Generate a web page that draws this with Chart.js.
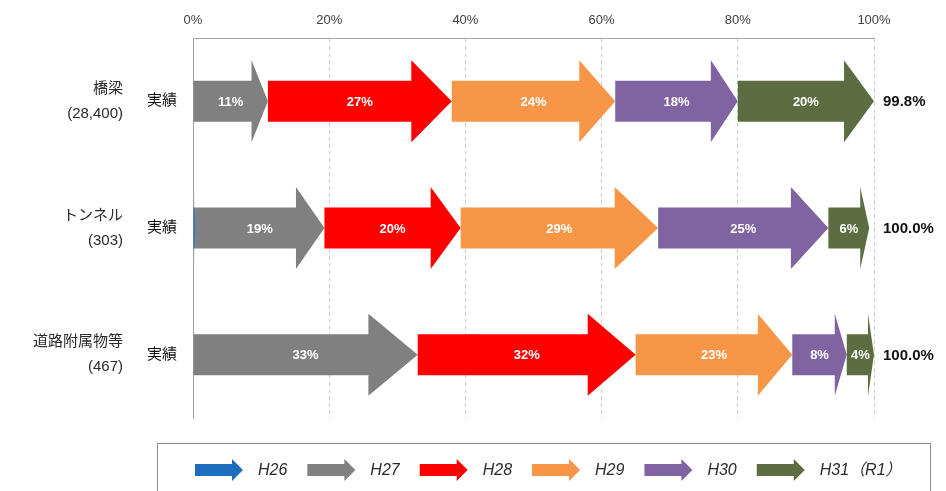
<!DOCTYPE html>
<html lang="ja">
<head>
<meta charset="utf-8">
<script src="https://cdn.jsdelivr.net/npm/chart.js@4.4.1/dist/chart.umd.min.js"></script>
<style>
  html, body { margin: 0; padding: 0; background: #ffffff; }
  #wrap { width: 946px; height: 491px; position: relative; }
</style>
</head>
<body>
<div id="wrap"><canvas id="chart"></canvas></div>
<script>
// Inspection progress by fiscal year (share of all facilities, %)
const categories = ['橋梁', 'トンネル', '道路附属物等'];
const facilityCounts = ['(28,400)', '(303)', '(467)'];
const rowKind = ['実績', '実績', '実績'];
const years = ['H26', 'H27', 'H28', 'H29', 'H30', 'H31（R1）'];

const h26 = [0, 0.3, 0];
const h27 = [11, 19, 33];
const h28 = [27, 20, 32];
const h29 = [24, 29, 23];
const h30 = [18, 25, 8];
const h31 = [20, 6, 4];
const totals = [99.8, 100.0, 100.0];

const xTicks = [0, 20, 40, 60, 80, 100];
const yearColors = ['#1d6dbd', '#808080', '#ff0000', '#f79646', '#8064a2', '#5c6d41'];

const FONT = "'Liberation Sans', 'Noto Sans CJK JP', sans-serif";

function arrowPath(ctx, left, right, cy, bodyHalf, headHalf, headLen) {
  const neck = right - headLen;
  ctx.beginPath();
  ctx.moveTo(left, cy - bodyHalf);
  ctx.lineTo(neck, cy - bodyHalf);
  ctx.lineTo(neck, cy - headHalf);
  ctx.lineTo(right, cy);
  ctx.lineTo(neck, cy + headHalf);
  ctx.lineTo(neck, cy + bodyHalf);
  ctx.lineTo(left, cy + bodyHalf);
  ctx.closePath();
}

// Each stacked segment is painted as a block arrow instead of a rectangle
const arrowBars = {
  id: 'arrowBars',
  beforeDatasetDraw(chart, args) {
    const ctx = chart.ctx;
    const ds = chart.data.datasets[args.index];
    ctx.save();
    ctx.fillStyle = ds.backgroundColor;
    args.meta.data.forEach((bar, i) => {
      if (!ds.data[i]) return;
      const p = bar.getProps(['x', 'y', 'base', 'height'], true);
      const left = Math.min(p.x, p.base);
      const right = Math.max(p.x, p.base);
      const w = right - left;
      arrowPath(ctx, left, right, p.y, p.height / 2, p.height, w * 0.22);
      ctx.fill();
    });
    ctx.restore();
    return false;
  },
  afterDatasetsDraw(chart) {
    const ctx = chart.ctx;
    ctx.save();
    ctx.textAlign = 'center';
    ctx.textBaseline = 'middle';
    ctx.font = 'bold 13px ' + FONT;
    ctx.fillStyle = '#ffffff';
    chart.data.datasets.forEach((ds, di) => {
      const meta = chart.getDatasetMeta(di);
      meta.data.forEach((bar, i) => {
        const v = ds.data[i];
        if (v < 1) return;
        const p = bar.getProps(['x', 'y', 'base'], true);
        ctx.fillText(Math.round(v) + '%', (p.x + p.base) / 2, p.y + 1);
      });
    });
    // row totals to the right of the plot
    const yScale = chart.scales.y;
    ctx.textAlign = 'left';
    ctx.font = 'bold 15px ' + FONT;
    ctx.fillStyle = '#111111';
    totals.forEach((t, i) => {
      ctx.fillText(t.toFixed(1) + '%', chart.chartArea.right + 9, yScale.getPixelForValue(i) + 1);
    });
    ctx.restore();
  },
  afterDraw(chart) {
    // framed legend row under the plot
    const ctx = chart.ctx;
    const area = chart.chartArea;
    const frameLeft = area.left - 36;
    const frameTop = area.bottom + 25;
    const frameRight = area.right + 56;
    const rowY = frameTop + 27;
    ctx.save();
    ctx.strokeStyle = '#8a8a8a';
    ctx.lineWidth = 1;
    ctx.strokeRect(frameLeft + 0.5, frameTop + 0.5, frameRight - frameLeft, 80);
    ctx.font = 'italic 16px ' + FONT;
    ctx.textBaseline = 'middle';
    ctx.textAlign = 'left';
    let x = area.left + 2;
    chart.data.datasets.forEach((ds) => {
      ctx.fillStyle = ds.backgroundColor;
      arrowPath(ctx, x, x + 48, rowY, 6, 11, 11);
      ctx.fill();
      x += 48 + 15;
      ctx.fillStyle = '#2b2b2b';
      ctx.fillText(ds.label, x, rowY + 1);
      x += ctx.measureText(ds.label).width + 20;
    });
    ctx.restore();
  }
};

const seriesValues = [h26, h27, h28, h29, h30, h31];

new Chart(document.getElementById('chart'), {
  type: 'bar',
  data: {
    labels: categories.map((c, i) => [c, facilityCounts[i]]),
    datasets: years.map((yr, i) => ({
      label: yr,
      data: seriesValues[i],
      backgroundColor: yearColors[i],
      barThickness: 41,
      yAxisID: 'y'
    }))
  },
  options: {
    indexAxis: 'y',
    responsive: true,
    maintainAspectRatio: false,
    animation: false,
    layout: { padding: { top: 0, left: 0, right: 72, bottom: 73 } },
    plugins: {
      legend: { display: false },
      tooltip: { enabled: false }
    },
    scales: {
      x: {
        position: 'top',
        stacked: true,
        min: 0,
        max: 100,
        afterBuildTicks: (s) => { s.ticks = xTicks.map(v => ({ value: v })); },
        afterFit: (s) => { s.height = 38; },
        ticks: {
          callback: (v) => v + '%',
          font: { family: FONT, size: 13 },
          color: '#404040',
          padding: 10,
          maxRotation: 0
        },
        grid: { color: '#cfcfcf', lineWidth: 1, drawTicks: false },
        border: { display: true, color: '#a5a5a5', width: 1, dash: [4, 3] }
      },
      y: {
        position: 'left',
        stacked: true,
        weight: 2,
        afterFit: (s) => { s.width = 135; },
        ticks: {
          font: { family: FONT, size: 15, lineHeight: 1.65 },
          color: '#2a2a2a',
          padding: 12
        },
        grid: { display: false, drawTicks: false },
        border: { display: false }
      },
      yKind: {
        type: 'category',
        position: 'left',
        weight: 1,
        offset: true,
        labels: rowKind,
        afterFit: (s) => { s.width = 58; },
        ticks: {
          font: { family: FONT, size: 15 },
          color: '#111111',
          padding: 16
        },
        grid: { display: false, drawTicks: false },
        border: { display: true, color: '#a0a0a0', width: 1 }
      }
    }
  },
  plugins: [arrowBars]
});
</script>
</body>
</html>
